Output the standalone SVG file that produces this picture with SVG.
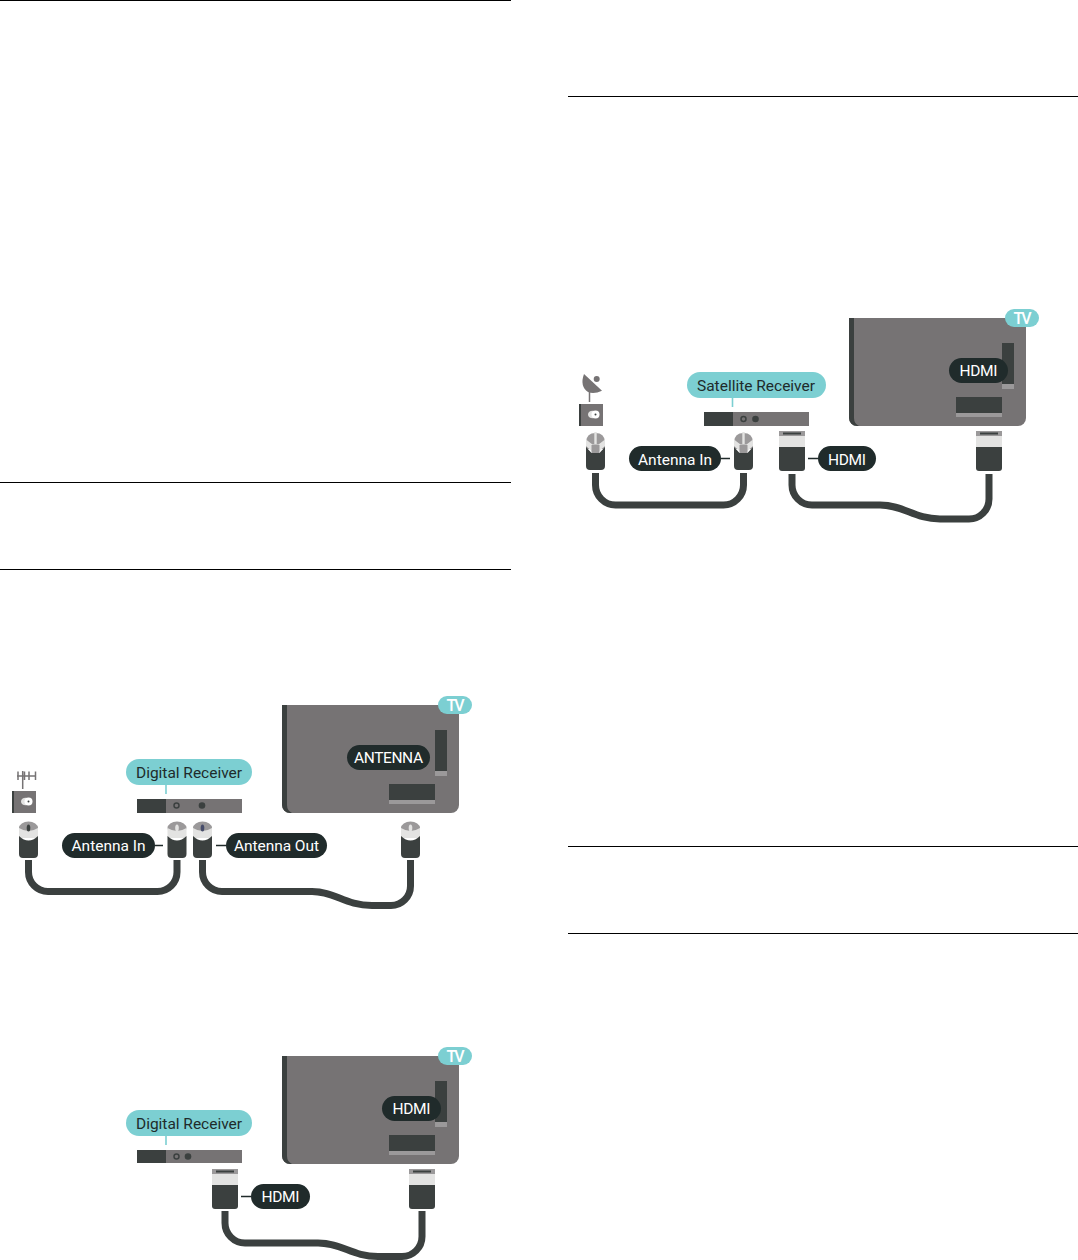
<svg xmlns="http://www.w3.org/2000/svg" width="1078" height="1260" viewBox="0 0 1078 1260">
<style>
text{font-family:Roboto,"Noto Sans","Liberation Sans",sans-serif;font-size:15.500px;text-anchor:middle}
.w{fill:#fff}.k{fill:#202b2b}
.teal{fill:#7ccfd2}.pill{fill:#202b2b}
.dark{fill:#3b403f}.grey{fill:#767374}.lg{fill:#9b999a}.pale{fill:#e3e3e2}
.cable{fill:none;stroke:#3b403f;stroke-width:7}
.rule{stroke:#000;stroke-width:1;fill:none}
.stemd{stroke:#202b2b;stroke-width:1.6;fill:none}
.stemt{stroke:#7ccfd2;stroke-width:1.6;fill:none}
</style>
<defs>
<g id="tvbody">
<path class="grey" d="M282 0H459V100a8 8 0 0 1-8 8H290a8 8 0 0 1-8-8Z"/>
<path class="dark" d="M282 0H287V100a9 9 0 0 0 5 8H290a8 8 0 0 1-8-8Z"/>
<rect class="dark" x="435" y="25" width="12" height="41"/><rect class="lg" x="435" y="66" width="12" height="5"/>
<rect class="dark" x="389" y="79" width="46" height="16"/><rect class="lg" x="389" y="95" width="46" height="4"/>
<rect class="teal" x="438" y="-9" width="34" height="18" rx="9"/>
<text class="w" x="455.500" y="5.500" textLength="18" style="font-weight:500;font-size:16px">TV</text>
</g>
<g id="coax">
<ellipse class="lg" cx="0" cy="7" rx="9.500" ry="6.500"/>
<path class="pale" d="M-9.500 7Q0 13 9.500 7V17H-9.500Z"/>
<path class="dark" d="M-9.500 15Q0 24 9.500 15V33a4 4 0 0 1-4 4H-5.500a4 4 0 0 1-4-4Z"/>
</g>
<g id="sat">
<path class="lg" d="M-9.500 10Q-9 1 0 1Q9 1 9.500 10V17H-9.500Z"/>
<rect class="pale" x="-1.200" y="0" width="2.400" height="12"/>
<path class="pale" d="M-9.500 7.500L-3 12.500H3L9.500 7.500V14L4 19H-4L-9.500 14Z"/>
<path class="lg" d="M-4 13H4V21H-4Z"/>
<path class="dark" d="M-9.500 15L-4 21H4L9.500 15V34a4 4 0 0 1-4 4H-5.500a4 4 0 0 1-4-4Z"/>
</g>
<g id="hdmi">
<rect class="lg" x="0" y="0" width="26" height="5"/>
<rect class="dark" x="4" y="1.500" width="18" height="2"/>
<rect class="pale" x="0" y="5" width="26" height="11"/>
<path class="dark" d="M0 16H26V37a3 3 0 0 1-3 3H3a3 3 0 0 1-3-3Z"/>
</g>
</defs>
<g id="rules">
<path class="rule" d="M0 .5H511M0 482.500H511M0 569.500H511M568 96.500H1078M568 846.500H1078M568 933.500H1078"/>
</g>
<g id="connectors">
<path class="cable" d="M28.500 860V872a19.500 19.500 0 0 0 19.500 19.500H157.500a19.500 19.500 0 0 0 19.500-19.500V860"/>
<path class="cable" d="M202.500 860V872a19.500 19.500 0 0 0 19.500 19.500H312C335 891.500 345 905.500 372 905.500H391a19.500 19.500 0 0 0 19.500-19.500V860"/>
<path class="cable" d="M225 1211V1223a20 20 0 0 0 20 20H318C342 1243 352 1256.500 378 1256.500H402a20 20 0 0 0 20-20V1211"/>
<path class="cable" d="M595.500 473V485a20 20 0 0 0 20 20H723.500a20 20 0 0 0 20-20V473"/>
<path class="cable" d="M792 474V485a20 20 0 0 0 20 20H880C904 505 914 519 940 519H969a20 20 0 0 0 20-20V474"/>
<path class="stemd" d="M155 845.500H163M216 845.500H226M409 770V779M241 1196.500H251M421 1121V1130M721 458.500H730M808 458.500H818M988 383V392"/>
<path class="stemt" d="M166 785V794M166 1136V1145M732.500 398V407"/>
</g>
<g id="tv-antenna" transform="translate(0 705)">
<use href="#tvbody"/>
<rect class="pill" x="347" y="40" width="83" height="25" rx="12.500"/>
<text class="w" x="388.500" y="58" textLength="69">ANTENNA</text>
</g>
<g id="antenna-socket">
<path d="M22.700 771V789M17 776H36M18 771.500V780M24.500 771.500V780M29 771.500V780M35.500 771.500V780" stroke="#767374" stroke-width="1.500" fill="none"/>
<rect class="grey" x="12" y="791" width="24" height="22"/><rect class="dark" x="12" y="791" width="2" height="22"/>
<ellipse class="pale" cx="25.500" cy="801.500" rx="4.500" ry="3.800"/><circle cx="28.500" cy="801.500" r="4" fill="#fff"/><circle class="dark" cx="28.500" cy="801.500" r="1"/>
</g>
<g id="digital-receiver-1">
<rect class="grey" x="137" y="799" width="105" height="14"/><rect class="dark" x="137" y="799" width="29" height="14"/>
<circle cx="176.500" cy="805.500" r="2.500" fill="none" stroke="#3b403f" stroke-width="1.500"/><circle class="dark" cx="202" cy="805.500" r="3.300"/>
<rect class="teal" x="126" y="759" width="126" height="26" rx="13"/>
<text class="k" x="189" y="777.500" textLength="106">Digital Receiver</text>
</g>
<g id="coax-1"><use href="#coax" x="28.500" y="821"/><ellipse class="dark" cx="28.500" cy="828" rx="1.800" ry="3.500"/></g>
<g id="coax-2"><use href="#coax" x="177" y="821"/><ellipse class="pale" cx="177" cy="828" rx="1.800" ry="3.500"/></g>
<g id="coax-3"><use href="#coax" x="202.500" y="821"/><ellipse fill="#464c6a" cx="202.500" cy="828" rx="1.800" ry="3.500"/></g>
<g id="coax-4"><use href="#coax" x="410.500" y="821"/><ellipse class="pale" cx="410.500" cy="828" rx="1.800" ry="3.500"/></g>
<g id="label-antenna-in"><rect class="pill" x="62" y="833" width="93" height="25" rx="12.500"/><text class="w" x="108.500" y="851" textLength="74">Antenna In</text></g>
<g id="label-antenna-out"><rect class="pill" x="226" y="833" width="101" height="25" rx="12.500"/><text class="w" x="276.500" y="851" textLength="85">Antenna Out</text></g>
<g id="tv-hdmi-1" transform="translate(0 1056)">
<use href="#tvbody"/>
<rect class="pill" x="382" y="40" width="59" height="25" rx="12.500"/>
<text class="w" x="411.500" y="58" textLength="38">HDMI</text>
</g>
<g id="digital-receiver-2">
<rect class="grey" x="137" y="1150" width="105" height="13"/><rect class="dark" x="137" y="1150" width="29" height="13"/>
<circle cx="176.500" cy="1156.500" r="2.500" fill="none" stroke="#3b403f" stroke-width="1.500"/><circle class="dark" cx="188" cy="1156.500" r="3.300"/>
<rect class="teal" x="126" y="1110" width="126" height="26" rx="13"/>
<text class="k" x="189" y="1128.500" textLength="106">Digital Receiver</text>
</g>
<g id="hdmi-1"><use href="#hdmi" x="212" y="1169"/></g>
<g id="hdmi-2"><use href="#hdmi" x="409" y="1169"/></g>
<g id="label-hdmi-1"><rect class="pill" x="251" y="1184" width="59" height="25" rx="12.500"/><text class="w" x="280.500" y="1202" textLength="38">HDMI</text></g>
<g id="tv-hdmi-2" transform="translate(567 318)">
<use href="#tvbody"/>
<rect class="pill" x="382" y="40" width="59" height="25" rx="12.500"/>
<text class="w" x="411.500" y="58" textLength="38">HDMI</text>
</g>
<g id="dish">
<path class="grey" d="M584 374L602 390.700Q594 394.500 588 392Q579.500 386 584 374Z"/><circle class="grey" cx="596.700" cy="379" r="3"/><path d="M589.500 390V402" stroke="#767374" stroke-width="1.500"/>
<rect class="grey" x="579" y="404" width="24" height="22"/><rect class="dark" x="579" y="404" width="2" height="22"/>
<ellipse class="pale" cx="592.500" cy="414.500" rx="4.500" ry="3.800"/><circle cx="595.500" cy="414.500" r="4" fill="#fff"/><circle class="dark" cx="595.500" cy="414.500" r="1"/>
</g>
<g id="satellite-receiver">
<rect class="grey" x="704" y="412" width="105" height="14"/><rect class="dark" x="704" y="412" width="29" height="14"/>
<circle cx="743.500" cy="419" r="2.500" fill="none" stroke="#3b403f" stroke-width="1.500"/><circle class="dark" cx="755.500" cy="419" r="3.300"/>
<rect class="teal" x="687" y="372" width="139" height="26" rx="13"/>
<text class="k" x="756" y="390.500" textLength="118">Satellite Receiver</text>
</g>
<g id="sat-1"><use href="#sat" x="595.500" y="432"/></g>
<g id="sat-2"><use href="#sat" x="743.500" y="432"/></g>
<g id="hdmi-3"><use href="#hdmi" x="779" y="431"/></g>
<g id="hdmi-4"><use href="#hdmi" x="976" y="431"/></g>
<g id="label-antenna-in-2"><rect class="pill" x="629" y="446" width="92" height="25" rx="12.500"/><text class="w" x="675" y="464.500" textLength="74">Antenna In</text></g>
<g id="label-hdmi-2"><rect class="pill" x="818" y="446" width="58" height="25" rx="12.500"/><text class="w" x="847" y="464.500" textLength="38">HDMI</text></g>
</svg>
